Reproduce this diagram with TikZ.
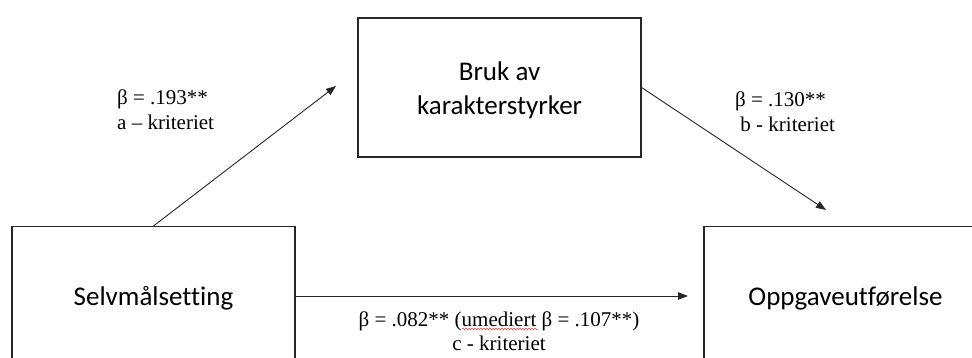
\documentclass[tikz,border=0pt]{standalone}
\usepackage{fontspec}
\setmainfont{Liberation Serif}
\newfontfamily\boxfont[Ligatures=NoCommon]{Carlito}
\usetikzlibrary{arrows.meta,decorations.pathmorphing}
\begin{document}
\begin{tikzpicture}[x=1pt,y=-1pt,
  boxnode/.style={draw=black!85,line width=1.1pt,minimum width=283pt,minimum height=139pt,inner sep=0pt,align=center,font=\boxfont\fontsize{27}{34}\selectfont},
  boxtext/.style={inner sep=0pt,align=center,font=\boxfont\fontsize{27}{34}\selectfont},
  conn/.style={draw=black!85,line width=0.9pt,-{Triangle[length=10pt,width=7.5pt]}},
  lbl/.style={font=\fontsize{21}{25}\selectfont,align=left,inner sep=0pt,anchor=north west}]
\useasboundingbox (0,0) rectangle (972,358);
\clip (0,0) rectangle (972,358);
\fill[white] (0,0) rectangle (972,358);
\node[boxnode] (T) at (499.5,87.5) {};
\node[boxnode] (L) at (153.5,296) {};
\node[boxnode] (R) at (845.5,296) {};
\node[boxtext] (Tt) at (499.5,90.5) {Bruk av\\karakterstyrker};
\node[boxtext] (Lt) at (153.5,298) {Selvmålsetting};
\node[boxtext] (Rt) at (845.5,298) {Oppgaveutførelse};
\coordinate (a1) at (336,86);
\coordinate (b1) at (826,210);
\coordinate (c1) at (688,296);
\draw[conn] (L.north) -- (a1);
\draw[conn] (T.east) -- (b1);
\draw[conn] (L.east) -- (c1);
\node[lbl] (la) at (117,90) {β = .193**\\a – kriteriet};
\node[lbl] (lb) at (735,92) {β = .130**\\\ b - kriteriet};
\node[font=\fontsize{21}{24}\selectfont,align=center,inner sep=0pt] (lc) at (499,331) {β = .082** (umediert β = .107**)\\c - kriteriet};
\draw[red!80,line width=0.5pt,decorate,decoration={snake,amplitude=0.8pt,segment length=3pt}] (462,329) -- (538,329);
\end{tikzpicture}
\end{document}
